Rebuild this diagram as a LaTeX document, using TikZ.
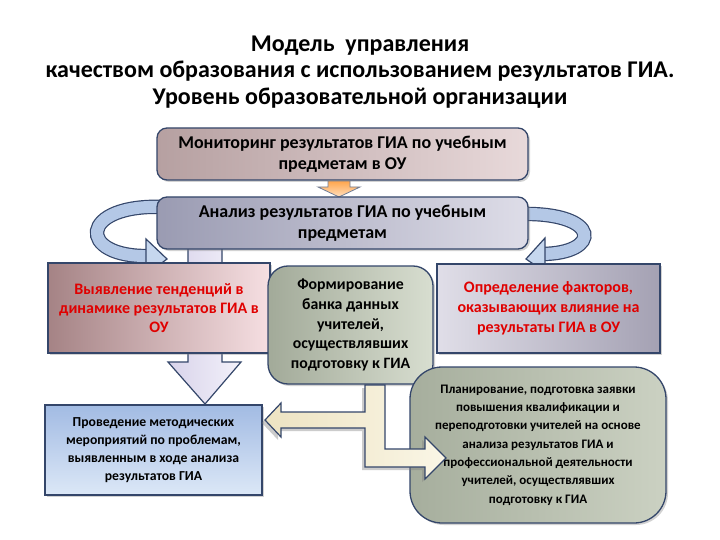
\documentclass[tikz,border=0pt]{standalone}
\usepackage{fontspec}
\setmainfont{Carlito}
\usetikzlibrary{shadows}
\definecolor{bord}{HTML}{34466A}
\definecolor{ribbon}{HTML}{B4C8E6}
\definecolor{ribbonH}{HTML}{C6D7EE}
\definecolor{redtxt}{HTML}{E00000}
\definecolor{aL}{HTML}{B6A0A1}\definecolor{aR}{HTML}{E8D9DA}
\definecolor{bL}{HTML}{9A9BB2}\definecolor{bR}{HTML}{DEDDE8}
\definecolor{cL}{HTML}{A58385}\definecolor{cR}{HTML}{F6DFE2}
\definecolor{dL}{HTML}{A2AA99}\definecolor{dR}{HTML}{D8DED0}
\definecolor{eL}{HTML}{E0DEE8}\definecolor{eR}{HTML}{A4A1B3}
\definecolor{fT}{HTML}{A2BBE3}\definecolor{fB}{HTML}{DCE8F7}
\definecolor{gL}{HTML}{A6AE9D}\definecolor{gR}{HTML}{CBD1C2}
\definecolor{hL}{HTML}{EDE3C2}\definecolor{hR}{HTML}{FAF6E6}
\definecolor{iL}{HTML}{D8D3EA}\definecolor{iR}{HTML}{F3F1FA}
\newcommand{\myfs}[2]{\fontsize{#1}{#2}\selectfont\bfseries}
\tikzset{
  box/.style={draw=bord, line width=1.3pt, inner sep=0pt, align=center,
    drop shadow={opacity=0.35, shadow xshift=2pt, shadow yshift=-2pt}},
  rbox/.style={box, rounded corners=10pt},
  arrowshape/.style={draw=bord, line width=1.2pt},
  ribbonline/.style={draw=bord, line width=1.2pt, double=ribbon, double distance=12pt}
}
\begin{document}
\begin{tikzpicture}[x=1pt,y=-1pt]
\useasboundingbox (0,0) rectangle (720,540);
\fill[white] (0,0) rectangle (720,540);

% title
\node[align=center, font=\myfs{24}{26.5}] (title) at (360,72)
  {Модель\ \ управления\\качеством образования с использованием результатов ГИА.\\Уровень образовательной организации};

% curved ribbons (behind boxes)
\draw[ribbonline] (165,207) .. controls (78,203) and (76,258) .. (150,256);
\filldraw[fill=ribbonH, arrowshape] (146,239) -- (167,259) -- (146,275) -- cycle;
\draw[ribbonline] (520,214) .. controls (602,212) and (602,254) .. (541,254);
\filldraw[fill=ribbonH, arrowshape] (545,238) -- (526,259) -- (545,272) -- cycle;

% big down arrow
\draw[arrowshape, left color=iL, right color=iR]
  (188,240) -- (222,240) -- (222,362) -- (241,362) -- (205,404) -- (168,362) -- (188,362) -- cycle;

% boxes
\node[rbox, minimum width=371pt, minimum height=52pt, left color=aL, right color=aR,
  font=\myfs{18}{21}] (mon) at (342.5,154)
  {Мониторинг результатов ГИА по учебным\\предметам в ОУ};
\draw[draw=bord!70, line width=0.8pt, top color=orange!70, bottom color=orange!25]
  (328,181) -- (350,181) -- (350,187) -- (360,187) -- (339,197) -- (318,187) -- (328,187) -- cycle;
\node[rbox, minimum width=371pt, minimum height=52pt, left color=bL, right color=bR,
  font=\myfs{18}{21}] (ana) at (342.5,223)
  {Анализ результатов ГИА по учебным\\предметам};

\node[box, minimum width=222pt, minimum height=90pt, left color=cL, right color=cR,
  text=redtxt, font=\myfs{16}{19}] (vyy) at (159,308)
  {Выявление тенденций в\\динамике результатов ГИА в\\ОУ};

\node[box, rounded corners=20pt, minimum width=165pt, minimum height=118pt,
  left color=dL, right color=dR,
  font=\myfs{15.8}{19.7}] (form) at (350.5,325)
  {Формирование\\банка данных\\учителей,\\осуществлявших\\подготовку к ГИА};

\node[box, minimum width=223pt, minimum height=89pt, left color=eL, right color=eR,
  text=redtxt, font=\myfs{16}{20}] (opr) at (548.5,308.5)
  {Определение факторов,\\оказывающих влияние на\\результаты ГИА в ОУ};

\node[box, minimum width=217pt, minimum height=90pt, top color=fT, bottom color=fB,
  font=\myfs{13.7}{18}] (prov) at (153.5,450)
  {Проведение методических\\мероприятий по проблемам,\\выявленным в ходе анализа\\результатов ГИА};

\node[box, rounded corners=32pt, minimum width=256pt, minimum height=156pt,
  left color=gL, right color=gR,
  font=\myfs{13}{18.3}] (plan) at (538,445)
  {Планирование, подготовка заявки\\повышения квалификации и\\переподготовки учителей на основе\\анализа результатов ГИА и\\профессиональной деятельности\\учителей, осуществлявших\\подготовку к ГИА};

% double arrow from form
\draw[arrowshape, left color=hL, right color=hR,
  drop shadow={opacity=0.4, shadow xshift=-3pt, shadow yshift=-3pt}]
  (365,385) -- (385,385) -- (385,449) -- (425,449) -- (425,437) -- (446,458) -- (425,479) -- (425,467)
  -- (365,467) -- (365,428) -- (281,428) -- (281,437) -- (265,420) -- (281,403) -- (281,412) -- (365,412) -- cycle;
\end{tikzpicture}
\end{document}
